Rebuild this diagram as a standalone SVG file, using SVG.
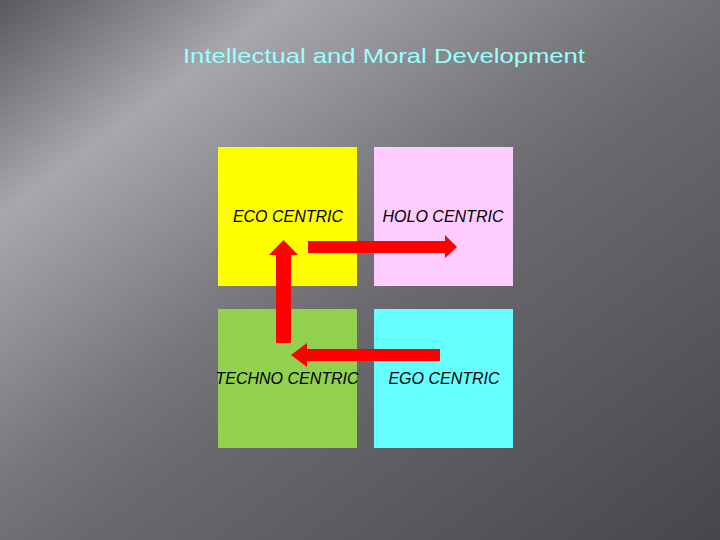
<svg xmlns="http://www.w3.org/2000/svg" width="720" height="540" viewBox="0 0 720 540">
<defs>
<linearGradient id="bg" x1="0" y1="0" x2="1" y2="1">
<stop offset="0" stop-color="#5a595e"/>
<stop offset="0.2" stop-color="#a8a7ac"/>
<stop offset="0.45" stop-color="#77767b"/>
<stop offset="0.55" stop-color="#6a696e"/>
<stop offset="1" stop-color="#47464a"/>
</linearGradient>
<style>
.lbl{font-family:"Liberation Sans",Arial,sans-serif;font-size:16px;font-style:italic;fill:#000;text-anchor:middle}
.arr{fill:#ff0000}
</style>
</defs>
<rect width="720" height="540" fill="url(#bg)"/>
<text x="183" y="63" font-family="Liberation Sans,Arial,sans-serif" font-size="21" fill="#99ffff" textLength="402" lengthAdjust="spacingAndGlyphs">Intellectual and Moral Development</text>
<g id="eco"><rect x="218" y="147" width="139" height="139" fill="#ffff00"/><text class="lbl" x="288" y="222">ECO CENTRIC</text></g>
<g id="holo"><rect x="374" y="147" width="139" height="139" fill="#ffccff"/><text class="lbl" x="443" y="222">HOLO CENTRIC</text></g>
<g id="techno"><rect x="218" y="309" width="139" height="139" fill="#92d050"/><text class="lbl" x="287" y="384">TECHNO CENTRIC</text></g>
<g id="ego"><rect x="374" y="309" width="139" height="139" fill="#66ffff"/><text class="lbl" x="444" y="384">EGO CENTRIC</text></g>
<g id="connectors">
<polygon class="arr" points="308,241 445,241 445,235 457,247 445,258 445,253 308,253"/>
<polygon class="arr" points="276,343 276,255 269,255 283.5,240 298,255 291,255 291,343"/>
<polygon class="arr" points="440,349 307,349 307,343 291,355 307,367 307,361 440,361"/>
</g>
</svg>
